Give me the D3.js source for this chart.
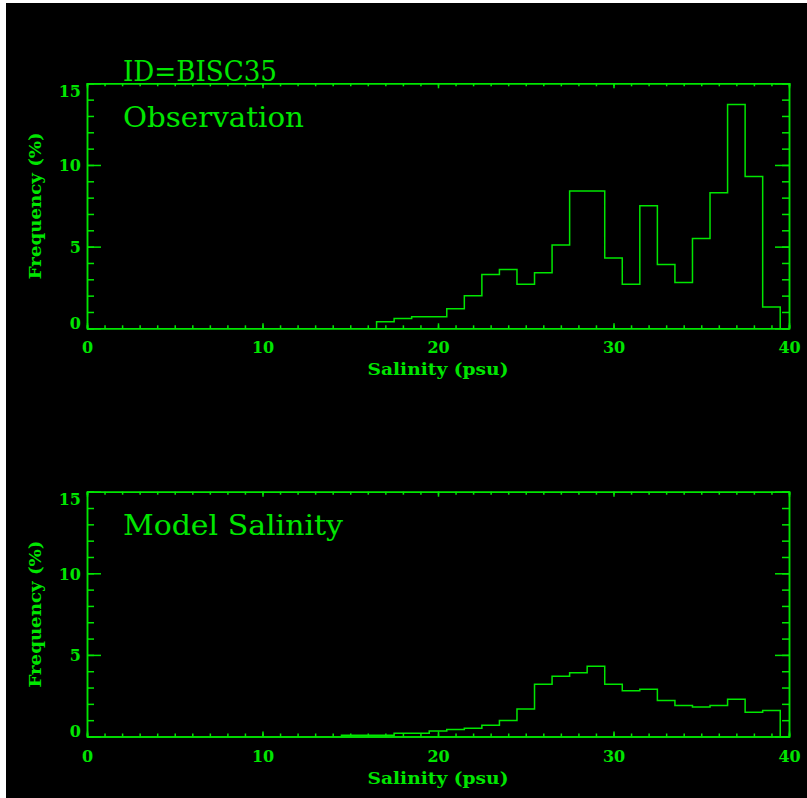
<!DOCTYPE html>
<html>
<head>
<meta charset="utf-8">
<script src="https://cdn.jsdelivr.net/npm/d3@7"></script>
<style>
  html, body { margin: 0; padding: 0; background: #fff; }
  svg { display: block; }
</style>
</head>
<body>
<svg id="chart" width="807" height="798"></svg>
<script>
'use strict';

const STATION_ID = 'ID=BISC35';
const X_LABEL = 'Salinity (psu)';
const Y_LABEL = 'Frequency (%)';
const X_TICKS = [0, 10, 20, 30, 40];
const Y_TICKS = [0, 5, 10, 15];

// bin centres (psu) and frequency (%)
const obsSalinity = [17, 18, 19, 20, 21, 22, 23, 24, 25, 26, 27, 28, 29, 30, 31, 32, 33, 34, 35, 36, 37, 38, 39];
const obsFrequency = [0.4, 0.6, 0.7, 0.7, 1.2, 2.0, 3.3, 3.6, 2.7, 3.4, 5.1, 8.4, 8.4, 4.3, 2.7, 7.5, 3.9, 2.8, 5.5, 8.3, 13.7, 9.3, 1.3];

const modelSalinity = [15, 16, 17, 18, 19, 20, 21, 22, 23, 24, 25, 26, 27, 28, 29, 30, 31, 32, 33, 34, 35, 36, 37, 38, 39];
const modelFrequency = [0.08, 0.08, 0.08, 0.2, 0.2, 0.33, 0.43, 0.51, 0.69, 0.98, 1.69, 3.2, 3.69, 3.9, 4.31, 3.2, 2.8, 2.9, 2.2, 1.9, 1.8, 1.9, 2.29, 1.49, 1.59];

(function () {
  const GREEN = '#00e600';
  const LINE_W = 1.5;
  const LEFT = 87;
  const RIGHT = 789;

  const svg = d3.select('#chart');

  svg.append('rect')
    .attr('x', 6).attr('y', 3)
    .attr('width', 801).attr('height', 795)
    .attr('fill', '#000');

  const x = d3.scaleLinear().domain([0, 40]).range([LEFT, RIGHT]);
  const xMinor = d3.range(0, 41);
  const yMinor = d3.range(0, 16);

  function styleAxis(g) {
    g.attr('font-family', null).attr('font-size', null);
    g.selectAll('.domain').attr('stroke', GREEN).attr('stroke-width', LINE_W);
    g.selectAll('line').attr('stroke', GREEN).attr('stroke-width', LINE_W);
  }

  function drawPanel(panel) {
    const y = d3.scaleLinear().domain([0, 15]).range([panel.bottom, panel.top]);
    const g = svg.append('g');

    // minor ticks on all four sides
    g.append('g').attr('transform', `translate(0,${panel.bottom})`)
      .call(d3.axisBottom(x).tickValues(xMinor).tickSize(-3).tickFormat(''))
      .call(styleAxis);
    g.append('g').attr('transform', `translate(0,${panel.top})`)
      .call(d3.axisTop(x).tickValues(xMinor).tickSize(-3).tickFormat(''))
      .call(styleAxis);
    g.append('g').attr('transform', `translate(${LEFT},0)`)
      .call(d3.axisLeft(y).tickValues(yMinor).tickSize(-7).tickFormat(''))
      .call(styleAxis);
    g.append('g').attr('transform', `translate(${RIGHT},0)`)
      .call(d3.axisRight(y).tickValues(yMinor).tickSize(-7).tickFormat(''))
      .call(styleAxis);

    // major ticks
    const bottomAxis = g.append('g').attr('transform', `translate(0,${panel.bottom})`)
      .call(d3.axisBottom(x).tickValues(X_TICKS).tickSizeInner(-5).tickSizeOuter(0).tickFormat(d3.format('d')))
      .call(styleAxis);
    bottomAxis.selectAll('text')
      .attr('y', 25).attr('dy', null)
      .attr('fill', GREEN)
      .style('font', 'bold 16px "DejaVu Serif"');

    g.append('g').attr('transform', `translate(0,${panel.top})`)
      .call(d3.axisTop(x).tickValues(X_TICKS).tickSizeInner(-5).tickSizeOuter(0).tickFormat(''))
      .call(styleAxis);

    const leftAxis = g.append('g').attr('transform', `translate(${LEFT},0)`)
      .call(d3.axisLeft(y).tickValues(Y_TICKS).tickSizeInner(-14).tickSizeOuter(0).tickFormat(d3.format('d')))
      .call(styleAxis);
    leftAxis.selectAll('text')
      .attr('x', -6).attr('dy', null)
      .attr('y', (d) => {
        const base = y(d) + 6;
        return Math.min(Math.max(base, panel.top + 13), panel.bottom) - y(d);
      })
      .attr('fill', GREEN)
      .style('font', 'bold 16px "DejaVu Serif"');

    g.append('g').attr('transform', `translate(${RIGHT},0)`)
      .call(d3.axisRight(y).tickValues(Y_TICKS).tickSizeInner(-14).tickSizeOuter(0).tickFormat(''))
      .call(styleAxis);

    // histogram outline, bins one unit wide
    const pts = [[panel.centres[0] - 0.5, 0]];
    panel.values.forEach((v, i) => {
      const c = panel.centres[i];
      pts.push([c - 0.5, v], [c + 0.5, v]);
    });
    pts.push([panel.centres[panel.centres.length - 1] + 0.5, 0]);

    const line = d3.line().x((d) => x(d[0])).y((d) => y(d[1]));
    g.append('path')
      .attr('d', line(pts))
      .attr('fill', 'none')
      .attr('stroke', GREEN)
      .attr('stroke-width', LINE_W)
      .attr('stroke-linejoin', 'miter');

    // titles
    g.append('text')
      .attr('x', 123).attr('y', panel.titleY)
      .attr('fill', GREEN)
      .attr('textLength', panel.titleLen)
      .attr('lengthAdjust', 'spacingAndGlyphs')
      .style('font', '27px "DejaVu Serif"')
      .text(panel.title);

    g.append('text')
      .attr('x', x(20)).attr('y', panel.bottom + 47)
      .attr('text-anchor', 'middle')
      .attr('fill', GREEN)
      .attr('textLength', 141)
      .attr('lengthAdjust', 'spacingAndGlyphs')
      .style('font', 'bold 17px "DejaVu Serif"')
      .text(X_LABEL);

    g.append('text')
      .attr('transform', `translate(41,${(panel.top + panel.bottom) / 2}) rotate(-90)`)
      .attr('text-anchor', 'middle')
      .attr('fill', GREEN)
      .attr('textLength', 147)
      .attr('lengthAdjust', 'spacingAndGlyphs')
      .style('font', 'bold 17px "DejaVu Serif"')
      .text(Y_LABEL);
  }

  drawPanel({
    title: 'Observation', titleY: 126.5, titleLen: 181,
    top: 83.3, bottom: 328.3,
    centres: obsSalinity, values: obsFrequency
  });

  drawPanel({
    title: 'Model Salinity', titleY: 535, titleLen: 220,
    top: 491.7, bottom: 736.5,
    centres: modelSalinity, values: modelFrequency
  });

  svg.append('text')
    .attr('x', 123).attr('y', 80.7)
    .attr('fill', GREEN)
    .attr('textLength', 154)
    .attr('lengthAdjust', 'spacingAndGlyphs')
    .style('font', '27px "DejaVu Serif"')
    .text(STATION_ID);
})();
</script>
</body>
</html>
